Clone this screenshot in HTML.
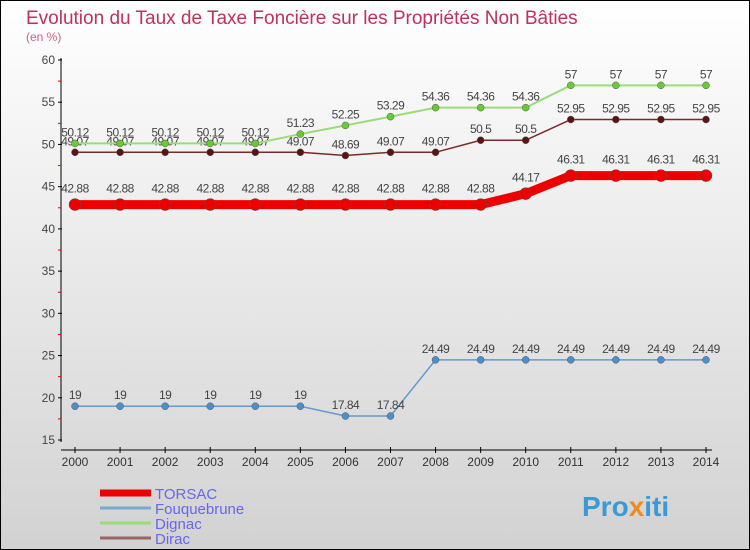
<!DOCTYPE html>
<html><head><meta charset="utf-8"><style>
body{margin:0;padding:0}
#wrap{width:750px;height:550px;position:relative;box-sizing:border-box;border:1px solid #000;background:linear-gradient(#ffffff,#d2d2d2);font-family:"Liberation Sans",sans-serif;overflow:hidden}
</style></head><body>
<div id="wrap">
<svg id="chart" width="750" height="550" style="position:absolute;left:-1px;top:-1px">
<text x="26" y="24" font-size="19" fill="#c0305a">Evolution du Taux de Taxe Foncière sur les Propriétés Non Bâties</text>
<text x="26" y="41" font-size="12" fill="#d06080">(en %)</text>
<g id="axes"></g><g id="series"></g><g id="legend"></g>
<text x="582" y="516" font-size="28" font-weight="bold" fill="#3a9ad8">Pro<tspan fill="#f08a1c">x</tspan>iti</text>
</svg>
</div>
<script>
const years=[2000,2001,2002,2003,2004,2005,2006,2007,2008,2009,2010,2011,2012,2013,2014];
const yTicks=[15,20,25,30,35,40,45,50,55,60];
const torsac=[42.88,42.88,42.88,42.88,42.88,42.88,42.88,42.88,42.88,42.88,44.17,46.31,46.31,46.31,46.31];
const fouquebrune=[19,19,19,19,19,19,17.84,17.84,24.49,24.49,24.49,24.49,24.49,24.49,24.49];
const dignac=[50.12,50.12,50.12,50.12,50.12,51.23,52.25,53.29,54.36,54.36,54.36,57,57,57,57];
const dirac=[49.07,49.07,49.07,49.07,49.07,49.07,48.69,49.07,49.07,50.5,50.5,52.95,52.95,52.95,52.95];
const seriesNames=["TORSAC","Fouquebrune","Dignac","Dirac"];
const NS="http://www.w3.org/2000/svg";
function X(i){return 75+i*(706-75)/(years.length-1);}
function Y(v){return 440-(v-15)*(380/45);}
function mk(tag,attrs,parent){const e=document.createElementNS(NS,tag);for(const k in attrs)e.setAttribute(k,attrs[k]);parent.appendChild(e);return e;}
const axes=document.getElementById('axes');
let a=mk('line',{x1:61,y1:58,x2:61,y2:442,stroke:'#000'},axes);

a=mk('line',{x1:61,y1:450,x2:712,y2:450,stroke:'#000'},axes);

yTicks.forEach((v,i)=>{
  mk('line',{x1:58,y1:Y(v),x2:62,y2:Y(v),stroke:'#000'},axes);
  if(i<yTicks.length-1)mk('line',{x1:58,y1:Y(v+2.5),x2:61,y2:Y(v+2.5),stroke:'#e00'},axes);
  const t=mk('text',{x:55,y:Y(v)+4,'font-size':12,'text-anchor':'end',fill:'#444'},axes);
  t.textContent=v;
  
});
years.forEach((yr,i)=>{
  mk('line',{x1:X(i),y1:447,x2:X(i),y2:453,stroke:'#000'},axes);
  const t=mk('text',{x:X(i),y:466,'font-size':12,'text-anchor':'middle',fill:'#333'},axes);
  t.textContent=yr;
  
});
const sg=document.getElementById('series');
function draw(data,name,color,w,dot,dotFill,labelDy){
  const pts=data.map((v,i)=>X(i)+','+Y(v)).join(' ');
  const l=mk('polyline',{points:pts,fill:'none',stroke:color,'stroke-width':w,'stroke-linejoin':'round'},sg);
  
  data.forEach((v,i)=>{
    const c=mk('circle',{cx:X(i),cy:Y(v),r:dot,fill:dotFill,stroke:'#555','stroke-width':0.5},sg);
    
    const t=mk('text',{x:X(i),y:Y(v)+labelDy,'font-size':12,'text-anchor':'middle',fill:'#444','letter-spacing':'-0.5'},sg);
    t.textContent=v;
    
  });
}
draw(dirac,'dirac','#7a2a2a',1.5,3.5,'#5a1414',-7);
draw(dignac,'dignac','#99dd77',2,3.5,'#66cc33',-7);
draw(fouquebrune,'fouquebrune','#6699cc',1.5,3.5,'#4a90cc',-7);
draw(torsac,'torsac','#ee0000',9,6,'#ee0000',-12);
const lg=document.getElementById('legend');
const lc=['#ee0000','#77aacc','#99dd77','#996666'],lw=[7,3,3,3];
seriesNames.forEach((n,i)=>{
  const y=493+i*15;
  const l=mk('line',{x1:100,y1:y,x2:151,y2:y,stroke:lc[i],'stroke-width':lw[i]},lg);
  
  const t=mk('text',{x:155,y:y+6,'font-size':15,fill:'#6666ee'},lg);
  t.textContent=n;
  
});
</script>
</body></html>
